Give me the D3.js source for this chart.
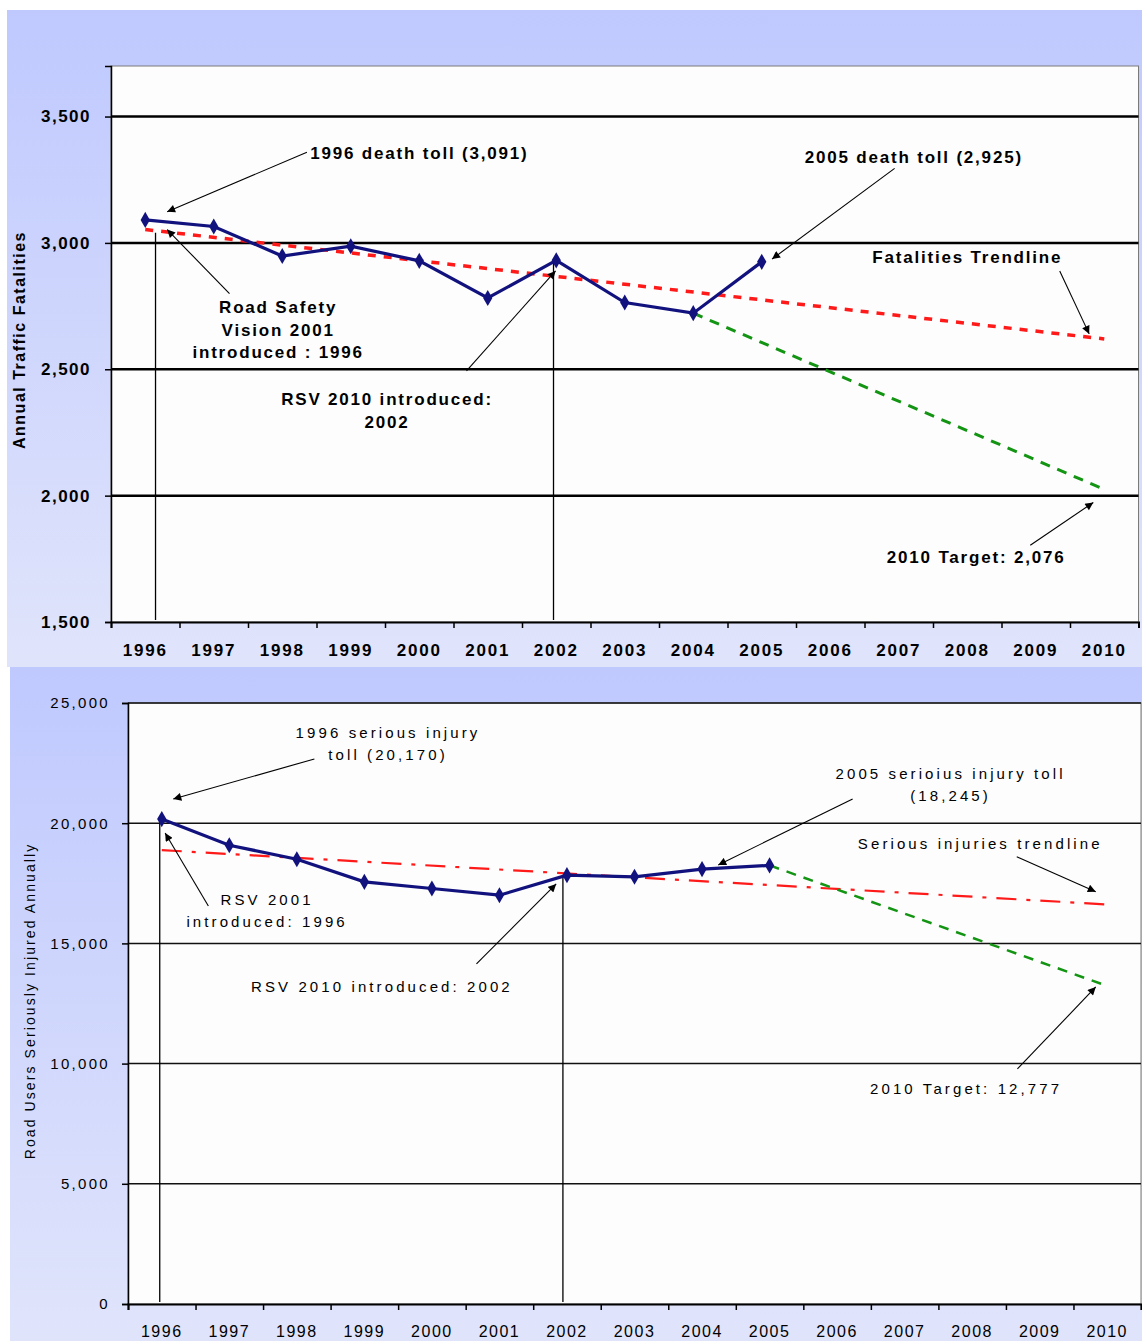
<!DOCTYPE html>
<html><head><meta charset="utf-8">
<script src="https://cdn.jsdelivr.net/npm/d3@7/dist/d3.min.js"></script>
<style>html,body{margin:0;padding:0;background:#fff;} svg{display:block}</style>
</head><body><svg id="c" width="1142" height="1341"></svg>
<script>
// ---------------- DATA ----------------
const yearLabels = ["1996","1997","1998","1999","2000","2001","2002","2003","2004","2005","2006","2007","2008","2009","2010"];
const dataYears = [1996,1997,1998,1999,2000,2001,2002,2003,2004,2005];

const fatalities = [3091,3065,2948,2987,2929,2782,2931,2764,2722,2925];
const fatalTrendYears = [1996,2010];
const fatalTrend = [3053,2620];
const fatalTargetYears = [2004,2010];
const fatalTarget = [2722,2025];
const fatalTicks = [1500,2000,2500,3000,3500];

const injuries = [20170,19085,18500,17560,17285,17005,17840,17770,18090,18245];
const injuryTrendYears = [1996,2010];
const injuryTrend = [18880,16620];
const injuryTargetYears = [2005,2010];
const injuryTarget = [18245,13230];
const injuryTicks = [0,5000,10000,15000,20000,25000];

// vertical reference lines: [year position, top value]
const fatalRefLines = [[1996.15,3040],[2001.96,2925]];
const injuryRefLines = [[1995.97,20170],[2001.94,17840]];

// annotations: text lines, anchor (year,value), anchor type
const fatalNotes = [
  {lines:["1996 death toll (3,091)"], at:[1998.41,3354], anchor:"start"},
  {lines:["Road Safety","Vision 2001","introduced : 1996"], at:[1997.94,2744], anchor:"middle"},
  {lines:["RSV 2010 introduced:","2002"], at:[1999.53,2380], anchor:"middle"},
  {lines:["2005 death toll (2,925)"], at:[2007.22,3336], anchor:"middle"},
  {lines:["Fatalities Trendline"], at:[2008.0,2941], anchor:"middle"},
  {lines:["2010 Target: 2,076"], at:[2008.13,1756], anchor:"middle"}
];
const fatalArrows = [
  [[1998.36,3359],[1996.32,3123]],
  [[1997.23,2799],[1996.32,3053]],
  [[2000.69,2494],[2001.99,2889]],
  [[2006.94,3295],[2005.15,2936]],
  [[2009.35,2889],[2009.78,2640]],
  [[2008.92,1804],[2009.84,1973]]
];
const injuryNotes = [
  {lines:["1996 serious injury","toll (20,170)"], at:[1999.35,23754], anchor:"middle"},
  {lines:["RSV 2001","introduced: 1996"], at:[1997.56,16806], anchor:"middle"},
  {lines:["RSV 2010 introduced: 2002"], at:[1999.26,13187], anchor:"middle"},
  {lines:["2005 serioius injury toll","(18,245)"], at:[2007.68,22048], anchor:"middle"},
  {lines:["Serious injuries trendline"], at:[2008.12,19136], anchor:"middle"},
  {lines:["2010 Target: 12,777"], at:[2007.91,8944], anchor:"middle"}
];
const injuryArrows = [
  [[1998.26,22672],[1996.17,21008]],
  [[1996.69,16557],[1996.05,19594]],
  [[2000.66,14144],[2001.84,17472]],
  [[2006.23,21008],[2004.24,18262]],
  [[2008.66,18608],[2009.83,17152]],
  [[2008.67,9776],[2009.83,13187]]
];

// ---------------- DRAW ----------------
const svg = d3.select("#c");
const defs = svg.append("defs");
function grad(id){
  const g = defs.append("linearGradient").attr("id",id).attr("x1",0).attr("y1",0).attr("x2",0).attr("y2",1);
  g.append("stop").attr("offset","0%").attr("stop-color","#bfc9fe");
  g.append("stop").attr("offset","100%").attr("stop-color","#e0e4fb");
}
grad("g1"); grad("g2");
defs.append("marker").attr("id","arr").attr("viewBox","0 0 10 10").attr("refX",10).attr("refY",5)
  .attr("markerWidth",9).attr("markerHeight",8).attr("markerUnits","userSpaceOnUse").attr("orient","auto")
  .append("path").attr("d","M0,0L10,5L0,10z").attr("fill","#000");

const boldFont = "'Liberation Sans Narrow','Arial Narrow','Liberation Sans',Arial,sans-serif";
const regFont = "'Liberation Sans',Arial,sans-serif";

function panel(cfg){
  const g = svg.append("g");
  g.append("rect").attr("x",cfg.bg[0]).attr("y",cfg.bg[1]).attr("width",cfg.bg[2]).attr("height",cfg.bg[3]).attr("fill",`url(#${cfg.gid})`);
  const x = d3.scaleLinear().domain([1995.5,2010.5]).range([cfg.left,cfg.right]);
  const y = d3.scaleLinear().domain(cfg.ydom).range([cfg.bottom,cfg.top]);
  g.append("rect").attr("x",cfg.left).attr("y",cfg.top).attr("width",cfg.right-cfg.left).attr("height",cfg.bottom-cfg.top)
    .attr("fill","#fdfdfd").attr("stroke","#7a7a7a").attr("stroke-width",1);
  // gridlines
  g.append("g").selectAll("line").data(cfg.ticks.slice(1)).join("line")
    .attr("x1",cfg.left).attr("x2",cfg.right).attr("y1",d=>y(d)).attr("y2",d=>y(d))
    .attr("stroke",cfg.gridColor).attr("stroke-width",cfg.gridW);
  // y axis
  const ya = g.append("g").attr("transform",`translate(${cfg.left},0)`)
    .call(d3.axisLeft(y).tickValues(cfg.ticks).tickSize(6).tickPadding(cfg.yPad).tickFormat(d3.format(",")));
  ya.select(".domain").attr("stroke","#000").attr("stroke-width",1.5);
  ya.selectAll(".tick line").attr("stroke","#000").attr("stroke-width",1.5);
  ya.selectAll(".tick text").attr("font-family",cfg.font).attr("font-weight",cfg.weight)
    .attr("font-size",cfg.tickSize).attr("letter-spacing",cfg.tickLS).attr("fill","#000");
  // x axis: boundary ticks
  const bounds = d3.range(1995.5,2011,1);
  const xa = g.append("g").attr("transform",`translate(0,${cfg.bottom})`)
    .call(d3.axisBottom(x).tickValues(bounds).tickSize(6).tickFormat(""));
  xa.select(".domain").attr("stroke","#000").attr("stroke-width",2);
  xa.selectAll(".tick line").attr("stroke","#000").attr("stroke-width",1.5);
  g.append("g").selectAll("text").data(yearLabels).join("text")
    .attr("x",d=>x(+d)).attr("y",cfg.xLabelY).attr("text-anchor","middle").attr("dominant-baseline","central")
    .attr("font-family",cfg.font).attr("font-weight",cfg.weight).attr("font-size",cfg.xTickSize)
    .attr("letter-spacing",cfg.xTickLS).text(d=>d);
  // axis title
  g.append("text").attr("transform",`translate(${cfg.titleX},${cfg.titleY}) rotate(-90)`)
    .attr("text-anchor","middle").attr("dominant-baseline","central")
    .attr("font-family",cfg.font).attr("font-weight",cfg.weight).attr("font-size",cfg.titleSize)
    .attr("letter-spacing",cfg.titleLS).text(cfg.title);
  // reference lines
  g.append("g").selectAll("line").data(cfg.refLines).join("line")
    .attr("x1",d=>x(d[0])).attr("x2",d=>x(d[0])).attr("y1",d=>y(d[1])).attr("y2",cfg.bottom-2)
    .attr("stroke","#000").attr("stroke-width",1.3);
  // trend & target
  const line = d3.line().x(d=>x(d[0])).y(d=>y(d[1]));
  g.append("path").datum(d3.zip(cfg.trendYears,cfg.trend)).attr("d",line).attr("fill","none")
    .attr("stroke","#ff1a1a").attr("stroke-width",cfg.trendW).attr("stroke-dasharray",cfg.trendDash);
  g.append("path").datum(d3.zip(cfg.targetYears,cfg.target)).attr("d",line).attr("fill","none")
    .attr("stroke","#139413").attr("stroke-width",cfg.targetW).attr("stroke-dasharray",cfg.targetDash);
  // data series
  const pts = d3.zip(dataYears,cfg.values);
  g.append("path").datum(pts).attr("d",line).attr("fill","none").attr("stroke","#12127e").attr("stroke-width",3.2);
  g.append("g").selectAll("path").data(pts).join("path")
    .attr("transform",d=>`translate(${x(d[0])},${y(d[1])})`)
    .attr("d",d3.symbol(d3.symbolDiamond,75)).attr("fill","#12127e");
  // arrows
  g.append("g").selectAll("line").data(cfg.arrows).join("line")
    .attr("x1",d=>x(d[0][0])).attr("y1",d=>y(d[0][1])).attr("x2",d=>x(d[1][0])).attr("y2",d=>y(d[1][1]))
    .attr("stroke","#000").attr("stroke-width",1.1).attr("marker-end","url(#arr)");
  // notes
  const nt = g.append("g").selectAll("text").data(cfg.notes).join("text")
    .attr("x",d=>x(d.at[0])).attr("y",d=>y(d.at[1])).attr("text-anchor",d=>d.anchor)
    .attr("font-family",cfg.font).attr("font-weight",cfg.weight).attr("font-size",cfg.noteSize)
    .attr("letter-spacing",cfg.noteLS).attr("fill","#000");
  nt.each(function(d){
    const t = d3.select(this);
    d.lines.forEach((l,i)=>{
      t.append("tspan").attr("x",x(d.at[0])).attr("y",y(d.at[1])+i*cfg.noteLH)
        .attr("dominant-baseline","central").text(l);
    });
  });
}

panel({gid:"g1", bg:[7,10,1135,657], left:111, right:1138.5, top:66, bottom:622, ydom:[1500,3700],
  ticks:fatalTicks, gridColor:"#000", gridW:2.5, yPad:14, font:boldFont, weight:"bold",
  tickSize:17, tickLS:1.5, xTickSize:17, xTickLS:1.8, xLabelY:650,
  title:"Annual Traffic Fatalities", titleX:19, titleY:340, titleSize:16, titleLS:1.5,
  refLines:fatalRefLines, trendYears:fatalTrendYears, trend:fatalTrend, trendW:3.5, trendDash:"8,8",
  targetYears:fatalTargetYears, target:fatalTarget, targetW:3, targetDash:"10,8",
  values:fatalities, arrows:fatalArrows, notes:fatalNotes, noteSize:17, noteLS:1.8, noteLH:22.5});

panel({gid:"g2", bg:[10,667,1132,674], left:128, right:1141, top:703, bottom:1304, ydom:[0,25000],
  ticks:injuryTicks, gridColor:"#111", gridW:1.5, yPad:12, font:regFont, weight:"normal",
  tickSize:15, tickLS:2.3, xTickSize:16, xTickLS:1.5, xLabelY:1331,
  title:"Road Users Seriously Injured Annually", titleX:30, titleY:1001, titleSize:14, titleLS:2.1,
  refLines:injuryRefLines, trendYears:injuryTrendYears, trend:injuryTrend, trendW:2.2, trendDash:"20,10,4,10",
  targetYears:injuryTargetYears, target:injuryTarget, targetW:2.5, targetDash:"10,8",
  values:injuries, arrows:injuryArrows, notes:injuryNotes, noteSize:15, noteLS:3.1, noteLH:22});
</script></body></html>
